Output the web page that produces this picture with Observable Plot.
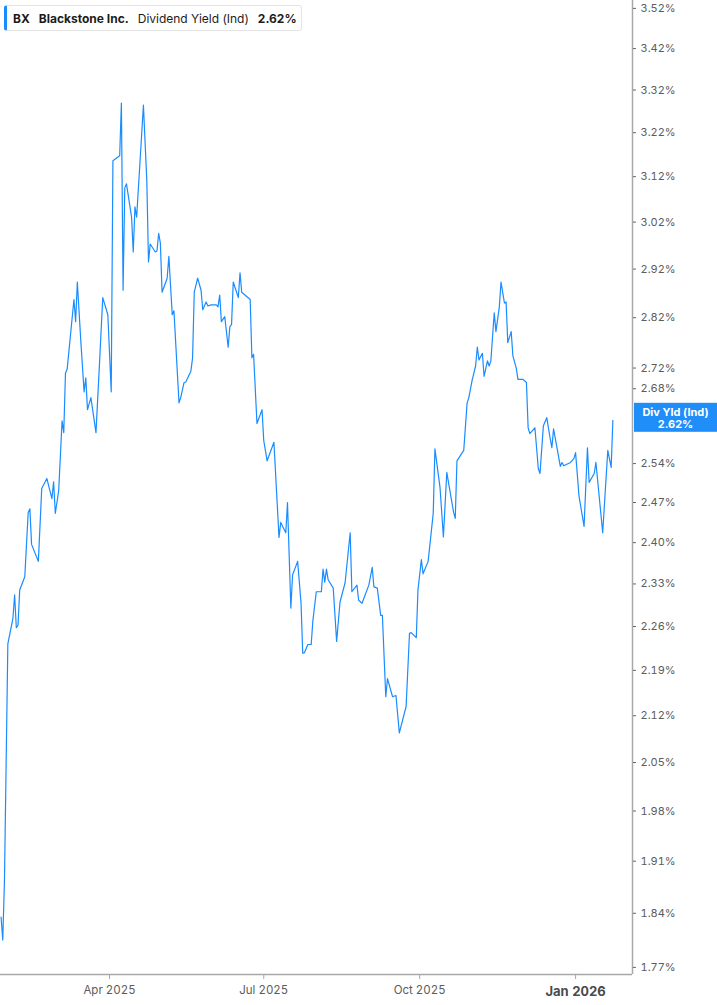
<!DOCTYPE html>
<html>
<head>
<meta charset="utf-8">
<script src="https://cdn.jsdelivr.net/npm/d3@7"></script>
<script src="https://cdn.jsdelivr.net/npm/@observablehq/plot@0.6"></script>
<style>
  html, body { margin: 0; padding: 0; background: #fff; }
  #wrap { position: relative; width: 717px; height: 1005px; overflow: hidden; font-family: Inter, "Noto Sans", sans-serif; }
  #legend {
    position: absolute; left: 4px; top: 5px; height: 24px; width: 288px;
    background: #fff; border: 1px solid #e4e4e4; border-left: 3px solid #1a8cff;
    border-radius: 3px; display: flex; align-items: center; padding-left: 6px;
    font-size: 12px; color: #1c1c1c; white-space: nowrap; z-index: 2;
  }
  #legend span { margin-right: 9px; }
  #legend .b { font-weight: 700; }
</style>
</head>
<body>
<div id="wrap">
  <div id="legend"><span class="b">BX</span><span class="b">Blackstone Inc.</span><span>Dividend Yield (Ind)</span><span class="b">2.62%</span></div>
  <div id="chart"></div>
</div>
<script>
const dates = [
"2025-01-27","2025-01-28","2025-01-29","2025-01-31","2025-02-03","2025-02-04","2025-02-05","2025-02-06","2025-02-07","2025-02-10",
"2025-02-12","2025-02-13","2025-02-14","2025-02-18","2025-02-20","2025-02-23","2025-02-26","2025-02-27","2025-02-28","2025-03-02",
"2025-03-04","2025-03-05","2025-03-06","2025-03-07","2025-03-11","2025-03-12","2025-03-13","2025-03-15","2025-03-17","2025-03-18",
"2025-03-19","2025-03-21","2025-03-24","2025-03-26","2025-03-28","2025-03-31","2025-04-02","2025-04-03","2025-04-07","2025-04-08",
"2025-04-09","2025-04-10","2025-04-11","2025-04-14","2025-04-15","2025-04-16","2025-04-17","2025-04-21","2025-04-23","2025-04-24",
"2025-04-25","2025-04-28","2025-04-29","2025-04-30","2025-05-01","2025-05-02","2025-05-05","2025-05-06","2025-05-08","2025-05-09",
"2025-05-12","2025-05-13","2025-05-15","2025-05-16","2025-05-19","2025-05-20","2025-05-21","2025-05-23","2025-05-25","2025-05-26",
"2025-05-28","2025-05-29","2025-05-31","2025-06-03","2025-06-04","2025-06-05","2025-06-06","2025-06-08","2025-06-10","2025-06-11",
"2025-06-12","2025-06-13","2025-06-16","2025-06-17","2025-06-18","2025-06-23","2025-06-24","2025-06-25","2025-06-27","2025-06-30",
"2025-07-01","2025-07-03","2025-07-07","2025-07-10","2025-07-11","2025-07-14","2025-07-15","2025-07-17","2025-07-18","2025-07-21",
"2025-07-23","2025-07-24","2025-07-25","2025-07-27","2025-07-29","2025-07-30","2025-08-01","2025-08-04","2025-08-05","2025-08-06",
"2025-08-07","2025-08-08","2025-08-11","2025-08-13","2025-08-15","2025-08-18","2025-08-21","2025-08-22","2025-08-25","2025-08-26",
"2025-08-28","2025-09-01","2025-09-03","2025-09-04","2025-09-06","2025-09-08","2025-09-09","2025-09-11","2025-09-12","2025-09-15",
"2025-09-17","2025-09-19","2025-09-23","2025-09-25","2025-09-26","2025-09-29","2025-09-30","2025-10-02","2025-10-03","2025-10-06",
"2025-10-09","2025-10-10","2025-10-13","2025-10-15","2025-10-17","2025-10-21","2025-10-22","2025-10-23","2025-10-27","2025-10-29",
"2025-10-30","2025-11-01","2025-11-03","2025-11-04","2025-11-05","2025-11-07","2025-11-08","2025-11-10","2025-11-11","2025-11-12",
"2025-11-14","2025-11-15","2025-11-17","2025-11-18","2025-11-20","2025-11-21","2025-11-22","2025-11-24","2025-11-25","2025-11-27",
"2025-11-28","2025-12-01","2025-12-03","2025-12-04","2025-12-05","2025-12-08","2025-12-10","2025-12-11","2025-12-13","2025-12-15",
"2025-12-17","2025-12-18","2025-12-19","2025-12-23","2025-12-24","2025-12-25","2025-12-29","2025-12-31","2026-01-01","2026-01-03",
"2026-01-06","2026-01-08","2026-01-09","2026-01-12","2026-01-13","2026-01-17","2026-01-20","2026-01-22","2026-01-23"
];
const yields = [
1.835,1.805,1.883,2.232,2.273,2.312,2.258,2.262,2.320,2.342,
2.452,2.459,2.397,2.368,2.495,2.513,2.477,2.507,2.451,2.491,
2.619,2.597,2.710,2.718,2.857,2.812,2.893,2.776,2.674,2.701,
2.640,2.663,2.597,2.724,2.861,2.826,2.674,3.156,3.167,3.289,
2.876,3.095,3.104,3.031,2.956,3.053,3.031,3.284,3.111,2.935,
2.973,2.956,2.958,2.996,2.975,2.872,2.901,2.947,2.826,2.834,
2.653,2.663,2.692,2.693,2.714,2.740,2.872,2.901,2.876,2.836,
2.852,2.844,2.846,2.846,2.842,2.866,2.812,2.822,2.761,2.802,
2.806,2.893,2.861,2.912,2.872,2.857,2.740,2.747,2.614,2.640,
2.582,2.545,2.579,2.409,2.435,2.417,2.470,2.290,2.345,2.368,
2.298,2.217,2.218,2.231,2.231,2.270,2.317,2.317,2.355,2.333,
2.355,2.337,2.323,2.236,2.300,2.332,2.417,2.317,2.328,2.303,
2.298,2.328,2.358,2.325,2.323,2.278,2.278,2.149,2.177,2.149,
2.151,2.094,2.134,2.249,2.250,2.242,2.320,2.371,2.347,2.368,
2.451,2.567,2.497,2.410,2.524,2.453,2.442,2.545,2.564,2.653,
2.663,2.697,2.724,2.761,2.736,2.749,2.704,2.734,2.724,2.734,
2.830,2.792,2.842,2.893,2.850,2.852,2.770,2.792,2.744,2.720,
2.698,2.698,2.692,2.606,2.595,2.606,2.531,2.522,2.610,2.625,
2.586,2.569,2.604,2.535,2.542,2.536,2.542,2.549,2.560,2.482,
2.428,2.569,2.506,2.522,2.542,2.417,2.564,2.533,2.620
];
const yTicks = [3.52,3.42,3.32,3.22,3.12,3.02,2.92,2.82,2.72,2.68,2.54,2.47,2.40,2.33,2.26,2.19,2.12,2.05,1.98,1.91,1.84,1.77];
const xTicks = ["2025-04-01","2025-07-01","2025-10-01"];
const xTickBold = ["2026-01-01"];
const lastLabelTitle = "Div Yld (Ind)";
const lastValue = yields[yields.length - 1];

const data = dates.map((d, i) => ({date: new Date(d), value: yields[i]}));
const xDomain = [new Date("2025-01-26T16:00:00Z"), new Date("2026-02-03T14:00:00Z")];
const yDomain = [1.761, 3.540];
const blue = "#1a8cff";
const axisGray = "#a8a8a8";
const textGray = "#5c5c5c";

function lastLabel(index, scales, values, dims) {
  const y = scales.y(lastValue);
  const x0 = dims.width - dims.marginRight + 2;
  const w = dims.marginRight - 2;
  const g = d3.create("svg:g");
  g.append("rect").attr("x", x0).attr("y", y - 17).attr("width", w).attr("height", 29)
    .attr("fill", "#1f8ef8");
  g.append("text").attr("x", x0 + w / 2).attr("y", y - 4).attr("text-anchor", "middle")
    .attr("fill", "#fff").attr("font-size", 11).attr("font-weight", 700)
    .attr("font-family", "Inter, sans-serif").text(lastLabelTitle);
  g.append("text").attr("x", x0 + w / 2).attr("y", y + 8).attr("text-anchor", "middle")
    .attr("fill", "#fff").attr("font-size", 11).attr("font-weight", 700)
    .attr("font-family", "Inter, sans-serif").text(lastValue.toFixed(2) + "%");
  return g.node();
}

const chart = Plot.plot({
  width: 717,
  height: 1005,
  marginLeft: 0,
  marginRight: 85,
  marginTop: 0,
  marginBottom: 31,
  style: {fontFamily: "Inter, 'Noto Sans', sans-serif", background: "#fff"},
  x: {type: "utc", domain: xDomain},
  y: {type: "log", domain: yDomain},
  marks: [
    Plot.line(data, {x: "date", y: "value", stroke: blue, strokeWidth: 1.2}),
    Plot.ruleX([xDomain[1]], {stroke: axisGray, strokeWidth: 1.5}),
    Plot.ruleY([yDomain[0]], {stroke: axisGray, strokeWidth: 1.5}),
    Plot.axisY({anchor: "right", ticks: yTicks, tickFormat: d => d.toFixed(2) + "%",
      tickSize: 3, tickPadding: 5, fontSize: 11, fill: textGray, stroke: "#666", label: null}),
    Plot.axisX({ticks: xTicks.map(d => new Date(d)), tickFormat: d3.utcFormat("%b %Y"),
      tickSize: 5, tickPadding: 6, fontSize: 11.5, fill: textGray, stroke: axisGray, label: null}),
    Plot.axisX({ticks: xTickBold.map(d => new Date(d)), tickFormat: d3.utcFormat("%b %Y"),
      tickSize: 5, tickPadding: 7, fontSize: 13, fontWeight: "bold", fill: "#4a4a4a", stroke: axisGray, label: null}),
    lastLabel
  ]
});
document.getElementById("chart").appendChild(chart);
</script>
</body>
</html>
